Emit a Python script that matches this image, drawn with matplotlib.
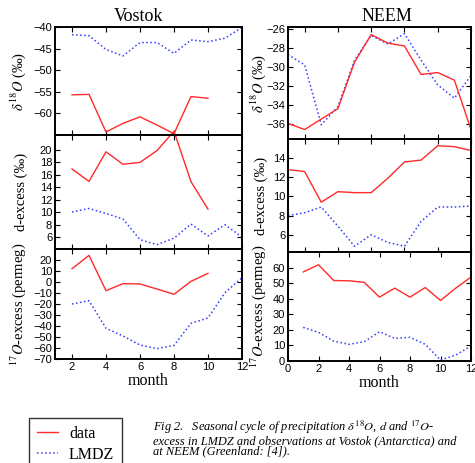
import numpy as np
import matplotlib
matplotlib.use("Agg")
import matplotlib.pyplot as plt
from matplotlib.lines import Line2D

plt.rcParams['font.family'] = ['Liberation Sans', 'DejaVu Sans']
plt.rcParams['mathtext.fontset'] = 'stix'

# Vostok (months 2..12, data only 2..10)
vos_months = [2, 3, 4, 5, 6, 7, 8, 9, 10, 11, 12]
vos_data_months = [2, 3, 4, 5, 6, 7, 8, 9, 10]
vos_d18o_data = [-55.7, -55.6, -64.3, -62.3, -60.8, -62.7, -64.7, -56.1, -56.5]
vos_d18o_lmdz = [-41.8, -42.0, -45.2, -46.7, -43.6, -43.6, -46.1, -43.0, -43.4, -42.6, -40.1]
vos_dex_data = [16.95, 14.95, 19.7, 17.7, 18.0, 19.9, 23.0, 14.9, 10.5]
vos_dex_lmdz = [10.05, 10.6, 9.8, 8.9, 5.6, 4.8, 5.85, 8.1, 6.2, 8.0, 6.0]
vos_o17_data = [12.1, 24.2, -7.9, -1.5, -1.8, -6.4, -11.2, 0.6, 7.9]
vos_o17_lmdz = [-20.0, -17.0, -42.1, -49.1, -57.3, -60.6, -57.6, -37.6, -32.7, -9.7, 3.9]

# NEEM (months 1..12)
neem_months = [1, 2, 3, 4, 5, 6, 7, 8, 9, 10, 11, 12]
neem_d18o_data = [-35.96, -36.6, -35.5, -34.4, -29.5, -26.6, -27.5, -27.8, -30.8, -30.6, -31.4, -36.6]
neem_d18o_lmdz = [-28.7, -29.8, -36.1, -34.2, -29.3, -26.7, -27.6, -26.5, -29.3, -31.9, -33.3, -30.9]
neem_dex_data = [12.8, 12.6, 9.4, 10.5, 10.4, 10.4, 11.9, 13.6, 13.8, 15.3, 15.2, 14.8]
neem_dex_lmdz = [8.0, 8.3, 8.9, 6.9, 4.8, 6.0, 5.2, 4.8, 7.4, 8.9, 8.9, 9.0]
neem_o17_data = [57.2, 61.8, 51.7, 51.5, 50.5, 41.0, 46.8, 41.0, 47.2, 38.9, 46.8, 53.9]
neem_o17_lmdz = [21.6, 18.4, 12.8, 10.7, 12.4, 18.8, 14.5, 15.2, 10.7, 0.6, 3.8, 9.6]

RED = '#ff2a2a'
BLUE = '#2f3cff'
serif = ['Liberation Serif', 'DejaVu Serif']

fig = plt.figure(figsize=(4.75, 4.63), dpi=100)

W, H = 475.0, 463.0

def add_axes(x0, x1, y0, y1):
    return fig.add_axes([x0 / W, 1 - y1 / H, (x1 - x0) / W, (y1 - y0) / H])

def style(ax):
    for s in ax.spines.values():
        s.set_linewidth(1.4)
    ax.tick_params(direction='in', top=True, right=True, length=3.5, width=0.8,
                   labelsize=8, pad=2)

vos_rows = [(27, 135), (135, 249), (249, 359)]
neem_rows = [(27, 139), (139, 252), (252, 361)]
vos_axes = [add_axes(55, 242, a, b) for a, b in vos_rows]
neem_axes = [add_axes(288, 471, a, b) for a, b in neem_rows]

# Vostok panels
vos_sets = [
    (vos_d18o_data, vos_d18o_lmdz, (-65, -40), [-60, -55, -50, -45, -40]),
    (vos_dex_data, vos_dex_lmdz, (4.1, 22.4), [6, 8, 10, 12, 14, 16, 18, 20]),
    (vos_o17_data, vos_o17_lmdz, (-70, 30), list(range(-70, 21, 10))),
]
for ax, (dat, lmdz, ylim, yt) in zip(vos_axes, vos_sets):
    ax.plot(vos_months, lmdz, ':', color=BLUE, lw=1.1)
    ax.plot(vos_data_months, dat, '-', color=RED, lw=1.0, clip_on=False)
    ax.set_xlim(1, 12)
    ax.set_ylim(*ylim)
    ax.set_yticks(yt)
    ax.set_xticks([2, 4, 6, 8, 10, 12])
    style(ax)
for ax in vos_axes[:2]:
    ax.tick_params(labelbottom=False)

# NEEM panels
neem_sets = [
    (neem_d18o_data, neem_d18o_lmdz, (-37.6, -25.8), [-36, -34, -32, -30, -28, -26]),
    (neem_dex_data, neem_dex_lmdz, (4.2, 16), [6, 8, 10, 12, 14]),
    (neem_o17_data, neem_o17_lmdz, (0, 70), [0, 10, 20, 30, 40, 50, 60]),
]
for i, (ax, (dat, lmdz, ylim, yt)) in enumerate(zip(neem_axes, neem_sets)):
    ax.plot(neem_months, lmdz, ':', color=BLUE, lw=1.1)
    ax.plot(neem_months, dat, '-', color=RED, lw=1.0)
    if i < 2:
        ax.set_xlim(1, 12)
        ax.set_xticks([2, 4, 6, 8, 10, 12])
    else:
        ax.set_xlim(0, 12)
        ax.set_xticks([0, 2, 4, 6, 8, 10, 12])
    ax.set_ylim(*ylim)
    ax.set_yticks(yt)
    style(ax)
for ax in neem_axes[:2]:
    ax.tick_params(labelbottom=False)

ylabels = [r'$\delta^{18}O$ (‰)', 'd-excess (‰)', r'$^{17}O$-excess (permeg)']
for ax, lab in zip(vos_axes, ylabels):
    ax.set_ylabel(lab, family=serif, fontsize=10.5)
    ax.yaxis.set_label_coords(-0.145, 0.5)
for ax, lab in zip(neem_axes, ylabels):
    ax.set_ylabel(lab, family=serif, fontsize=10.5)
    ax.yaxis.set_label_coords(-0.11, 0.5)

vos_axes[0].set_title('Vostok', family=serif, fontsize=13, pad=4, x=0.445)
neem_axes[0].set_title('NEEM', family=serif, fontsize=13, pad=4, x=0.54)
vos_axes[2].set_xlabel('month', family=serif, fontsize=11.5, labelpad=1)
neem_axes[2].set_xlabel('month', family=serif, fontsize=11.5, labelpad=1)

# legend box
handles = [Line2D([], [], color=RED, lw=1.0), Line2D([], [], color=BLUE, lw=1.1, ls=':')]
leg = fig.legend(handles, ['data', 'LMDZ'], loc='upper left',
                 bbox_to_anchor=(29 / W, 1 - 418 / H), borderaxespad=0,
                 frameon=True, fancybox=False,
                 prop={'family': serif, 'size': 11.5}, handlelength=1.3,
                 borderpad=0.5, labelspacing=0.3, handletextpad=0.7)
leg.get_frame().set_edgecolor('black')
leg.get_frame().set_linewidth(1.0)

caption = [
    r'Fig 2.   Seasonal cycle of precipitation $\delta^{18}O$, $d$ and $^{17}O$-',
    'excess in LMDZ and observations at Vostok (Antarctica) and',
    'at NEEM (Greenland: [4]).',
]
fig.text(153 / W, 1 - 419 / H, '\n'.join(caption), family=serif, style='italic',
         fontsize=8.9, va='top', ha='left', linespacing=0.86)

fig.savefig('out.png', dpi=100)
